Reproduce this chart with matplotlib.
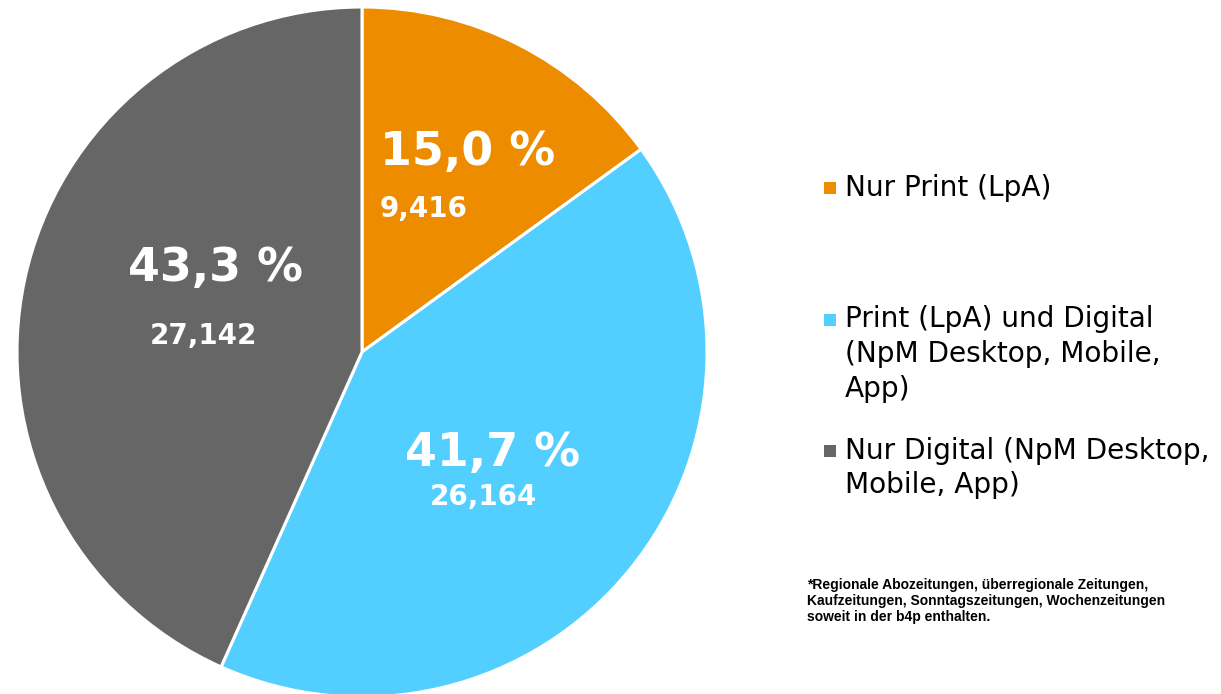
import matplotlib
matplotlib.use("Agg")
import matplotlib.pyplot as plt
from matplotlib.patches import Rectangle

categories = ["Nur Print (LpA)",
              "Print (LpA) und Digital\n(NpM Desktop, Mobile,\nApp)",
              "Nur Digital (NpM Desktop,\nMobile, App)"]
shares = [15.0, 41.7, 43.3]
counts = [9.416, 26.164, 27.142]
colors = ["#EE8C00", "#53CFFF", "#666666"]
footnote = ("*Regionale Abozeitungen, überregionale Zeitungen,\n"
            "Kaufzeitungen, Sonntagszeitungen, Wochenzeitungen\n"
            "soweit in der b4p enthalten.")

W, H = 1221, 694
fig = plt.figure(figsize=(W / 100, H / 100), dpi=100)
fig.patch.set_facecolor("white")

cx, cy, r = 362, 352, 345
ax = fig.add_axes([(cx - r) / W, (H - cy - r) / H, 2 * r / W, 2 * r / H])
ax.pie(shares, colors=colors, startangle=90, counterclock=False,
       wedgeprops=dict(edgecolor="white", linewidth=2.2))
ax.set_xlim(-1, 1)
ax.set_ylim(-1, 1)
ax.set_aspect("equal")
ax.axis("off")

def fmt(v, d):
    return f"{v:.{d}f}".replace(".", ",")

# label positions (data coords), alignment
pct_pos = [(0.052, 0.577, "left"), (0.377, -0.293, "center"), (-0.426, 0.243, "center")]
cnt_pos = [(0.052, 0.415, "left"), (0.351, -0.42, "center"), (-0.461, 0.046, "center")]
for i in range(3):
    x, y, ha = pct_pos[i]
    ax.text(x, y, fmt(shares[i], 1) + " %", ha=ha, va="center", color="white",
            fontsize=33, fontweight="bold", family="DejaVu Sans")
    x, y, ha = cnt_pos[i]
    ax.text(x, y, fmt(counts[i], 3), ha=ha, va="center", color="white",
            fontsize=20, fontweight="bold", family="DejaVu Sans")

# legend (manual)
leg_y = [188, 354, 468]
line_px = 34
for i in range(3):
    yc = leg_y[i]
    nlines = categories[i].count("\n") + 1
    first_line_y = yc - (nlines - 1) * line_px / 2
    fig.patches.append(Rectangle((824 / W, (H - first_line_y - 6) / H), 12 / W, 12 / H,
                                 transform=fig.transFigure, facecolor=colors[i],
                                 edgecolor="none"))
    fig.text(845 / W, (H - yc) / H, categories[i], ha="left", va="center",
             fontsize=20.2, color="black", family="DejaVu Sans", linespacing=1.3)

fig.text(807 / W, (H - 601) / H, footnote, ha="left", va="center", fontsize=10,
         fontweight="bold", family="Liberation Sans", color="black", linespacing=1.2)

fig.savefig("out.png", dpi=100, facecolor="white")
